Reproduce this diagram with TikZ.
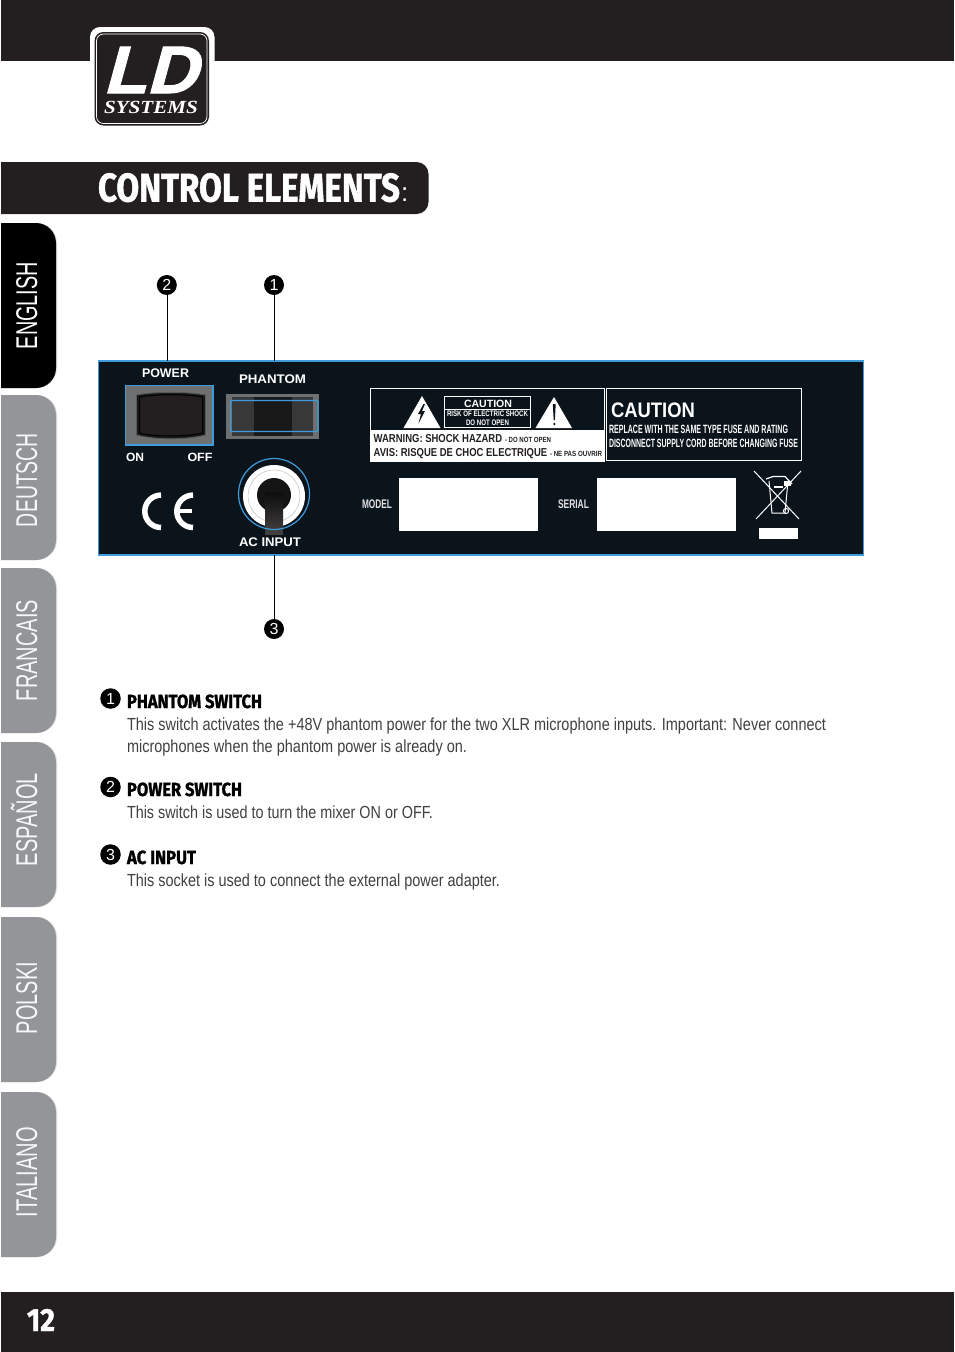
\documentclass[tikz,border=0pt]{standalone}
\usepackage{graphicx}
\usepackage{fontspec}
\setmainfont{Liberation Sans}
\newfontfamily\hv{Liberation Sans}
\newfontfamily\hvb[UprightFont=* Bold]{Liberation Sans}
\newfontfamily\hvh[UprightFont=* Bold,FakeBold=1.4]{Fira Sans}
\newfontfamily\hvl[UprightFont=* Bold,FakeSlant=0.26,FakeBold=1.5]{Liberation Sans}
\newfontfamily\srf[UprightFont=* Bold Italic]{Liberation Serif}
\definecolor{barc}{HTML}{231F20}
\definecolor{panelc}{HTML}{0B131B}
\definecolor{bluec}{HTML}{3C9CDC}
\definecolor{tabc}{HTML}{939598}
\definecolor{tabedge}{HTML}{DDDDDD}
\definecolor{swgray}{HTML}{6D6F71}
\definecolor{bodyc}{HTML}{404040}
\newsavebox\wbox
\newcommand\wt[3]{\sbox\wbox{\fontsize{#2}{#2}\selectfont #3}\pgfmathsetmacro\wr{#1/\wd\wbox}\scalebox{\wr}[1]{\usebox\wbox}}
\tikzset{
  txt/.style={inner sep=0pt,outer sep=0pt,anchor=base west},
  tabtext/.style={inner sep=0pt,outer sep=0pt,anchor=base,rotate=90,text=white,font=\hv},
  graytext/.style={tabtext,text=white!92!tabc},
  callout/.style={circle,fill=black,minimum size=20pt,inner sep=0pt,outer sep=0pt,text=white,font=\hv\fontsize{16}{16}\selectfont},
  lead/.style={draw=black,line width=0.6pt},
  paneltxt/.style={txt,text=white,font=\hvb},
  body/.style={txt,text=bodyc,font=\hv},
  head/.style={txt,text=black,font=\hvh},
  whitebox/.style={fill=white,draw=none},
}
\begin{document}
\begin{tikzpicture}[x=1pt,y=-1pt]
\useasboundingbox (0,0) rectangle (954,1352);
\fill[white] (0,0) rectangle (954,1352);
% bars
\fill[barc] (1,0) rectangle (954,61);
\fill[barc] (1,1292) rectangle (954,1352);
\node[txt,text=white,font=\hvh] (pagenum) at (27,1331) {\wt{28}{32}{12}};
% logo
\fill[white,rounded corners=10pt] (90,27) rectangle (214.5,127);
\fill[barc,rounded corners=9pt] (94.5,32) rectangle (209,125.5);
\draw[white,line width=0.7pt,rounded corners=7pt] (96.5,34) rectangle (207,123.5);
\node[txt,text=white,font=\hvl] (logold) at (103,93) {\wt{94}{67}{LD}};
\node[txt,text=white,font=\srf] (logosys) at (104,113) {\wt{94}{18.5}{SYSTEMS}};
% title
\fill[barc,rounded corners=12pt] (-20,162) -- (428.5,162) -- (428.5,214) -- (-20,214) -- cycle;
\fill[white] (-21,150) rectangle (1,220);
\node[txt,text=white,font=\hvh] (title) at (98,201.5) {\wt{302}{40}{CONTROL ELEMENTS}};
\node[txt,text=white,font=\hv] (colon) at (401,201) {\fontsize{26}{26}\selectfont :};
% tabs
\foreach \a/\b in {223/388,395/560,568/733,742/907,917/1082,1092/1257}{
  \fill[tabedge,rounded corners=20pt] (-30,\a) rectangle (57,\b);
}
\fill[black,rounded corners=20pt] (-30,223) rectangle (56,388);
\foreach \a/\b in {395/560,568/733,742/907,917/1082,1092/1257}{
  \fill[tabc,rounded corners=20pt] (-30,\a) rectangle (56,\b);
}
\fill[white] (-30,215) rectangle (1,1270);
\node[tabtext] (tabEN) at (37,305.5) {\wt{87}{30}{ENGLISH}};
\node[graytext] (tabDE) at (37,480) {\wt{94}{30}{DEUTSCH}};
\node[graytext] (tabFR) at (37,650.5) {\wt{101}{30}{FRANCAIS}};
\node[graytext] (tabES) at (37,819.5) {\wt{93}{30}{ESPAÑOL}};
\node[graytext] (tabPL) at (37,998) {\wt{72}{30}{POLSKI}};
\node[graytext] (tabIT) at (37,1172) {\wt{90}{30}{ITALIANO}};
% panel
\node[draw=bluec,fill=panelc,line width=1.8pt,minimum width=765pt,minimum height=194pt,inner sep=0pt,outer sep=0pt,anchor=north west] (panel) at (98.5,361) {};
% callouts
\node[callout] (c2) at (166.8,285) {2};
\node[callout] (c1) at (274,285) {1};
\node[callout] (c3) at (274,629) {3};
\coordinate (p2) at (166.8,361);
\coordinate (p1) at (274,361);
\coordinate (p3) at (274,555);
\draw[lead] (c2) -- (p2);
\draw[lead] (c1) -- (p1);
\draw[lead] (c3) -- (p3);
% labels
\node[paneltxt] (lpower) at (142,377.3) {\wt{47}{12.5}{POWER}};
\node[paneltxt] (lphantom) at (239,383) {\wt{67}{12.5}{PHANTOM}};
\node[paneltxt] (lon) at (126,461) {\wt{18}{12}{ON}};
\node[paneltxt] (loff) at (187.5,461) {\wt{25}{12}{OFF}};
\node[paneltxt] (lac) at (239,546) {\wt{62}{12.5}{AC INPUT}};
% power switch
\fill[swgray] (125.5,385.5) rectangle (213,445);
\draw[bluec,line width=1.5pt] (125.5,385.5) rectangle (213,445);
\draw[fill=black!90,draw=black!65,line width=0.8pt] (136.5,395) .. controls (155,391.5) and (186,391.5) .. (205.5,395) -- (205.5,435) .. controls (186,440) and (155,440) .. (136.5,435) -- cycle;
\draw[fill=barc,draw=black,line width=1pt] (139.5,397) .. controls (155,394) and (186,394) .. (202.5,397) -- (202.5,433) .. controls (186,437) and (155,437) .. (139.5,433) -- cycle;
% phantom switch
\fill[swgray] (226,394) rectangle (319,439);
\fill[black!78] (232,397) rectangle (313,436);
\fill[black!90] (254,397) rectangle (292,436);
\draw[bluec,line width=1.2pt,rounded corners=1pt] (230.5,400.5) rectangle (318,431.5);
% CE
\draw[white,line width=5.5pt] (161,527.5) arc (90:270:16.2);
\draw[white,line width=5.5pt] (193,527.5) arc (90:270:16.2);
\draw[white,line width=3.8pt] (176,511) -- (192,511);
% AC input
\fill[white] (274,496) circle (31);
\draw[black!25,line width=0.5pt] (274,496) circle (26);
\fill[black!92] (274,495) circle (17);
\shade[top color=black!95,bottom color=barc!85] (265,492) rectangle (283,534);
\draw[bluec,line width=1.2pt] (274,494) circle (35.5);
% warning box
\draw[white,line width=0.9pt] (370.5,388.5) rectangle (604.5,461);
\fill[white] (370.5,430) rectangle (604.5,461);
\fill[white] (422,396) -- (440.5,428) -- (403.5,428) -- cycle;
\fill[panelc] (423.5,404) -- (418,414) -- (421,414) -- (418.5,423.5) -- (425,411) -- (422,411) -- (425,404) -- cycle;
\fill[white] (554,397) -- (572,428) -- (535.5,428) -- cycle;
\fill[panelc] (552.8,404) -- (555.7,404) -- (554.9,420) -- (553.7,420) -- cycle;
\fill[panelc] (554.3,424) circle (1.3);
\draw[white,line width=0.8pt] (444.5,396.5) rectangle (530.5,427.5);
\draw[white,line width=0.8pt] (444.5,409) -- (530.5,409);
\node[paneltxt] (cautA) at (464,407) {\wt{48}{10.5}{CAUTION}};
\node[paneltxt] (cautB) at (447,416) {\wt{81}{8}{RISK OF ELECTRIC SHOCK}};
\node[paneltxt] (cautC) at (466,425) {\wt{43}{8}{DO NOT OPEN}};
\node[paneltxt,text=barc] (warnA) at (373.7,442) {\wt{128.5}{11.5}{WARNING: SHOCK HAZARD}};
\node[paneltxt,text=barc] (warnB) at (505,442) {\wt{46}{7.5}{- DO NOT OPEN}};
\node[paneltxt,text=barc] (avisA) at (373.7,456) {\wt{173.5}{11.5}{AVIS: RISQUE DE CHOC ELECTRIQUE}};
\node[paneltxt,text=barc] (avisB) at (550,456) {\wt{52}{7.5}{- NE PAS OUVRIR}};
% caution box
\draw[white,line width=0.9pt] (606,388.5) rectangle (801.5,460.5);
\node[paneltxt] (cautD) at (611,417.5) {\wt{84}{21}{CAUTION}};
\node[paneltxt] (cautE) at (609,433.2) {\wt{179}{12}{REPLACE WITH THE SAME TYPE FUSE AND RATING}};
\node[paneltxt] (cautF) at (609,447.2) {\wt{189}{12}{DISCONNECT SUPPLY CORD BEFORE CHANGING FUSE}};
% model serial
\node[paneltxt,text=white!88!panelc] (lmodel) at (362,508.5) {\wt{30}{12.5}{MODEL}};
\fill[whitebox] (399,478) rectangle (538,531);
\node[paneltxt,text=white!88!panelc] (lserial) at (558,508.5) {\wt{31}{12.5}{SERIAL}};
\fill[whitebox] (597,478) rectangle (736,531);
% WEEE
\draw[white,line width=1pt] (754,471) -- (799,519);
\draw[white,line width=1pt] (801,471) -- (756,519);
\draw[white,line width=1pt] (769,481) -- (772,513) -- (785,513) -- (788,481);
\draw[white,line width=1.2pt] (766,479) -- (773,476.5) -- (785,476.5) -- (792,484);
\fill[white] (784,481) rectangle (791,486);
\fill[white] (774,486) rectangle (783,488);
\draw[white,line width=1pt] (786,511) circle (2.6);
\fill[whitebox] (759,528) rectangle (798,539);
% text
\node[callout,minimum size=20.5pt] (b1) at (110.5,698.5) {1};
\node[head] (h1) at (127,708) {\wt{135}{19}{PHANTOM SWITCH}};
\node[body] (t1) at (127,730) {\wt{699}{17.5}{This switch activates the +48V phantom power for the two XLR microphone inputs. Important: Never connect}};
\node[body] (t2) at (127,752) {\wt{340}{17.5}{microphones when the phantom power is already on.}};
\node[callout,minimum size=20.5pt] (b2) at (110.5,787) {2};
\node[head] (h2) at (127,796) {\wt{115}{19}{POWER SWITCH}};
\node[body] (t3) at (127,818) {\wt{306}{17.5}{This switch is used to turn the mixer ON or OFF.}};
\node[callout,minimum size=20.5pt] (b3) at (110.5,854.5) {3};
\node[head] (h3) at (127,864) {\wt{69}{19}{AC INPUT}};
\node[body] (t4) at (127,886) {\wt{373}{17.5}{This socket is used to connect the external power adapter.}};
\end{tikzpicture}
\end{document}
